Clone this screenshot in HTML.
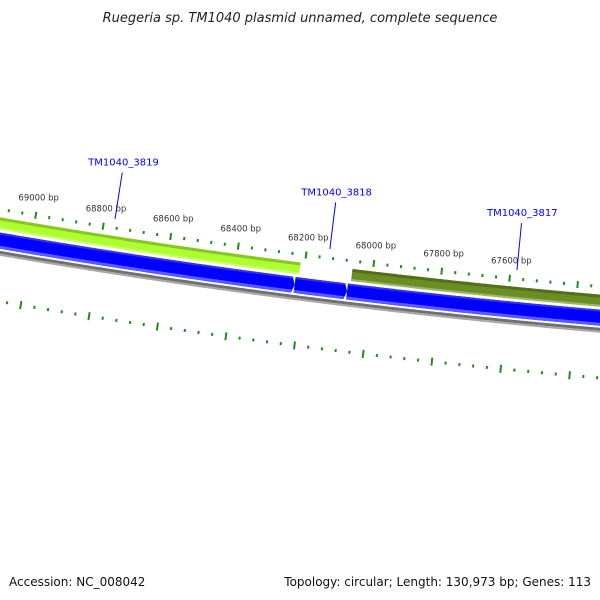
<!DOCTYPE html>
<html><head><meta charset="utf-8"><style>
html,body{margin:0;padding:0;background:#fff;}
svg{display:block;font-family:"DejaVu Sans","Liberation Sans",sans-serif;}
</style></head><body>
<svg id="map" width="600" height="600" viewBox="0 0 600 600" xmlns="http://www.w3.org/2000/svg">
<rect width="600" height="600" fill="#fff"/>
<text x="300" y="22" text-anchor="middle" font-size="13" font-style="italic" fill="#222">Ruegeria sp. TM1040 plasmid unnamed, complete sequence</text>
<g id="layers"></g>
<text x="9" y="586" font-size="12" fill="#111">Accession: NC_008042</text>
<text x="591" y="586" text-anchor="end" font-size="12" fill="#111">Topology: circular; Length: 130,973 bp; Genes: 113</text>
</svg>
<script>
const seqLength = 130973;
const forwardGeneNames = ["TM1040_3819", "TM1040_3817"];
const forwardGeneStarts = [68213, 66800];
const forwardGeneEnds = [69500, 68060];
const forwardGeneColors = ["#adff2f", "#6b8e23"];
const reverseGeneStarts = [69500, 68222, 68068];
const reverseGeneEnds = [68222, 68068, 66700];
const geneLabels = ["TM1040_3819", "TM1040_3818", "TM1040_3817"];
const geneLabelPositions = [68769, 68133, 67581];
const tickLabels = [69000, 68800, 68600, 68400, 68200, 68000, 67800, 67600];
const viewStart = 66800, viewEnd = 69600, tickStep = 40, majorStep = 200;

const cx = 1209.4, cy = -6806.3, phi0 = 0.12724, refBp = 68200;
const k = 2 * Math.PI / seqLength;
const R = 7150;
function pt(bp, r){ const p = phi0 + (bp - refBp) * k; return [cx - r*Math.sin(p), cy + r*Math.cos(p)]; }
function arcPts(a, b, r){ const out=[]; const n=Math.max(2,Math.ceil(Math.abs(b-a)/10)); for(let i=0;i<=n;i++){out.push(pt(a+(b-a)*i/n, r));} return out; }
function band(a, b, r1, r2){ const o=arcPts(a,b,r1), i=arcPts(b,a,r2); return o.concat(i).map(p=>p[0].toFixed(2)+","+p[1].toFixed(2)).join(" "); }
const NS="http://www.w3.org/2000/svg";
const g=document.getElementById("layers");
function mk(tag, attrs){ const e=document.createElementNS(NS,tag); for(const a in attrs) e.setAttribute(a, attrs[a]); g.appendChild(e); return e; }

// backbone gray
let e = mk("polygon",{points:band(viewStart-800, viewEnd, 7160, 7163), fill:"#707070"});


e = mk("polygon",{points:band(viewStart-800, viewEnd, 7163, 7165), fill:"#a8a8a8"});



// forward genes
function shade(c, f){ const n=parseInt(c.slice(1),16); let r=n>>16,gg=(n>>8)&255,b=n&255; if(f<1){r*=f;gg*=f;b*=f;} else {r+= (255-r)*(f-1);gg+=(255-gg)*(f-1);b+=(255-b)*(f-1);} return "rgb("+Math.round(r)+","+Math.round(gg)+","+Math.round(b)+")"; }
for(let i=0;i<forwardGeneStarts.length;i++){
  const s=forwardGeneStarts[i], en=forwardGeneEnds[i], c=forwardGeneColors[i];
  e = mk("polygon",{points:band(s,en,7127,7139), fill:c});
  
  
  e = mk("polygon",{points:band(s,en,7127,7130), fill:shade(c,0.78)});
  
  
  e = mk("polygon",{points:band(s,en,7137,7139), fill:shade(c,1.35)});
  
  
}
// reverse genes (blue arrows pointing to decreasing bp)
for(let i=0;i<reverseGeneStarts.length;i++){
  const s=reverseGeneStarts[i], en=reverseGeneEnds[i], tip=8;
  const outer=arcPts(s,en+tip,7142), inner=arcPts(en+tip,s,7158);
  const t=pt(en,7150);
  const pts=outer.concat([t]).concat(inner).map(p=>p[0].toFixed(2)+","+p[1].toFixed(2)).join(" ");
  e = mk("polygon",{points:pts, fill:"#0000ff"});
  
  
  e = mk("polygon",{points:band(s,en+tip,7155,7158), fill:"#5a5aff"});
  
  
  e = mk("polygon",{points:band(s,en+tip,7142,7144), fill:"#3030ff"});
  
  
}
// ticks
for(let bp=viewStart; bp<=viewEnd; bp+=tickStep){
  const major = bp % majorStep === 0;
  const hl = major ? 3.5 : 1.5;
  const a=pt(bp,7119-hl), b=pt(bp,7119+hl);
  e = mk("line",{x1:a[0],y1:a[1],x2:b[0],y2:b[1],stroke:"#1e8c1e","stroke-width":2});
  
  
  const hl2 = major ? 4 : 1.5;
  const c=pt(bp,7210-hl2), d=pt(bp,7210+hl2);
  e = mk("line",{x1:c[0],y1:c[1],x2:d[0],y2:d[1],stroke:"#1e8c1e","stroke-width":2});
  
  
}
for(let i=0;i<tickLabels.length;i++){
  const p=pt(tickLabels[i],7101);
  e = mk("text",{x:p[0].toFixed(1),y:(p[1]+3).toFixed(1),"text-anchor":"middle","font-size":"8.5",fill:"#333"});
  e.textContent = tickLabels[i]+" bp";
  
  
}
for(let i=0;i<geneLabels.length;i++){
  const a=pt(geneLabelPositions[i],7110), b=pt(geneLabelPositions[i],7063);
  e = mk("line",{x1:a[0],y1:a[1],x2:b[0],y2:b[1],stroke:"#0000ff","stroke-width":1});
  
  
  const t=pt(geneLabelPositions[i],7055);
  e = mk("text",{x:t[0].toFixed(1),y:(t[1]+1).toFixed(1),"text-anchor":"middle","font-size":"10",fill:"#0000ff"});
  e.textContent = geneLabels[i];
  
  
}
</script>
</body></html>
